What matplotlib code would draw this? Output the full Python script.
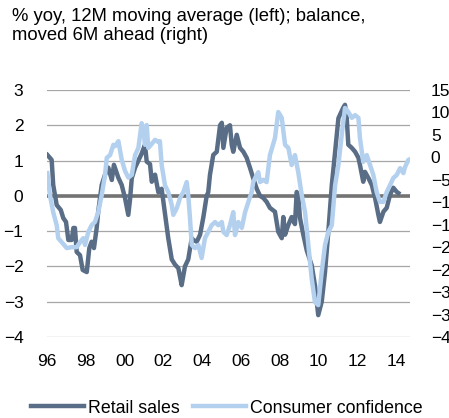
import numpy as np
import matplotlib
matplotlib.use("Agg")
import matplotlib.pyplot as plt

plt.rcParams['font.family'] = ['Liberation Sans', 'DejaVu Sans']

# years since Jan 1996
rs_t = [0.02, 0.24, 0.32, 0.50, 0.71, 0.84, 0.98, 1.10, 1.27, 1.36, 1.44, 1.53, 1.70, 1.84,
        2.05, 2.18, 2.30, 2.42, 2.56, 2.64, 2.82, 2.99, 3.16, 3.34, 3.45, 3.68, 3.85, 4.02,
        4.19, 4.28, 4.37, 4.54, 4.71, 4.88, 5.05, 5.14, 5.31, 5.40, 5.57, 5.74, 5.91, 6.08,
        6.25, 6.43, 6.60, 6.77, 6.86, 6.94, 7.11, 7.28, 7.46, 7.54, 7.72, 7.89, 8.06, 8.23,
        8.31, 8.40, 8.57, 8.75, 8.92, 9.01, 9.09, 9.26, 9.43, 9.52, 9.60, 9.78, 9.95, 10.12,
        10.29, 10.46, 10.63, 10.81, 10.98, 11.15, 11.32, 11.49, 11.75, 11.92, 12.10, 12.18,
        12.27, 12.44, 12.61, 12.78, 12.87, 12.95, 13.04, 13.21, 13.39, 13.64, 13.81, 13.98,
        14.16, 14.33, 14.50, 14.68, 14.85, 15.02, 15.27, 15.36, 15.45, 15.53, 15.71, 15.88,
        16.05, 16.13, 16.30, 16.39, 16.56, 16.74, 16.91, 17.08, 17.16, 17.34, 17.51, 17.68,
        17.85, 18.03, 18.11]
retail_sales = [1.16, 1.02, 0.31, -0.26, -0.40, -0.63, -0.74, -1.25, -1.25, -0.91, -0.91, -1.59,
                -1.68, -2.10, -2.16, -1.48, -1.30, -1.48, -0.91, -0.45, 0.31, 0.60, 0.80, 0.45,
                0.88, 0.51, 0.31, -0.06, -0.54, -0.10, 0.50, 0.80, 1.00, 1.20, 1.45, 0.97, 0.90,
                0.40, 0.60, 0.10, 0.20, -0.50, -1.20, -1.80, -1.95, -2.05, -2.30, -2.53, -2.00,
                -1.80, -1.20, -1.25, -1.30, -1.10, -0.60, 0.00, 0.10, 0.60, 1.16, 1.25, 2.00,
                2.07, 1.36, 1.93, 2.00, 1.45, 1.25, 1.73, 1.36, 1.25, 1.08, 0.80, 0.50, 0.20,
                0.00, -0.06, -0.17, -0.34, -0.45, -1.02, -1.20, -0.60, -1.10, -0.82, -0.60,
                -0.80, 0.11, 0.00, -0.63, -1.10, -1.55, -1.96, -2.53, -3.38, -3.00, -2.16,
                -1.02, 0.31, 1.25, 2.20, 2.50, 2.58, 2.20, 1.45, 1.36, 1.25, 1.08, 0.88, 0.40,
                0.68, 0.51, 0.31, -0.06, -0.54, -0.74, -0.45, -0.34, 0.03, 0.23, 0.11, 0.08]

cc_t = [0.02, 0.15, 0.32, 0.50, 0.58, 0.76, 1.02, 1.27, 1.53, 1.70, 1.87, 1.96, 2.13, 2.30,
        2.47, 2.64, 2.82, 2.99, 3.08, 3.25, 3.42, 3.51, 3.68, 3.85, 4.02, 4.19, 4.37, 4.54,
        4.71, 4.88, 4.96, 5.05, 5.14, 5.22, 5.40, 5.57, 5.74, 5.82, 5.91, 6.08, 6.25, 6.43,
        6.51, 6.69, 6.86, 7.03, 7.20, 7.28, 7.37, 7.46, 7.63, 7.80, 7.97, 8.14, 8.31, 8.49,
        8.66, 8.83, 9.01, 9.09, 9.26, 9.43, 9.60, 9.69, 9.86, 10.04, 10.21, 10.38, 10.55,
        10.63, 10.81, 10.89, 10.98, 11.15, 11.32, 11.49, 11.75, 11.92, 12.10, 12.27, 12.44,
        12.61, 12.78, 12.95, 13.13, 13.30, 13.47, 13.64, 13.81, 13.98, 14.16, 14.33, 14.50,
        14.68, 14.85, 15.02, 15.19, 15.36, 15.53, 15.71, 15.88, 16.05, 16.13, 16.30, 16.48,
        16.65, 16.82, 16.99, 17.16, 17.34, 17.51, 17.68, 17.85, 18.03, 18.20, 18.37, 18.45,
        18.62, 18.71]
consumer_conf = [-3.5, -8.4, -12.2, -15.1, -18.0, -18.9, -20.2, -20.0, -20.0, -18.9, -18.0,
                 -19.5, -16.6, -15.1, -14.4, -12.2, -8.4, -4.0, -0.1, 0.5, 2.8, 2.5, 3.6, -0.5,
                 -3.0, -4.5, -3.9, 0.5, 2.1, 7.6, 6.5, 2.8, 7.2, 2.1, 3.0, 3.9, 3.4, 3.6, -1.7,
                 -6.2, -7.7, -10.6, -12.8, -11.3, -9.0, -7.7, -5.5, -8.4, -13.5, -19.5, -20.2,
                 -19.5, -22.4, -18.0, -16.6, -15.1, -14.4, -15.1, -14.4, -16.6, -17.3, -15.1,
                 -12.2, -17.3, -14.4, -15.7, -12.2, -9.9, -7.7, -5.5, -3.9, -3.3, -5.5, -5.0,
                 -5.5, 0.5, 4.3, 10.1, 8.8, 2.8, 2.1, -1.7, 0.5, -3.3, -8.4, -12.2, -19.5,
                 -26.9, -32.2, -32.9, -25.5, -19.5, -16.6, -15.1, -6.2, -1.7, 5.0, 11.0, 10.1,
                 8.8, 9.4, 8.8, 4.3, -1.0, 0.5, -1.7, -3.9, -7.7, -9.9, -9.9, -7.7, -6.2, -4.6,
                 -3.9, -2.4, -3.5, -2.2, -0.6, -0.4]

xticks = [1996, 1998, 2000, 2002, 2004, 2006, 2008, 2010, 2012, 2014]
xlabels = ['96', '98', '00', '02', '04', '06', '08', '10', '12', '14']

dark = '#596e86'
light = '#b4d0ef'
fs = 12.5

fig = plt.figure(figsize=(4.49, 4.18), dpi=100)
ax = fig.add_axes([47/449, 1 - 337/418, (410 - 47)/449, (337 - 90)/418])
ax2 = ax.twinx()

ax.set_ylim(-4, 3)
ax.set_yticks(range(-4, 4))
ax2.set_ylim(-40, 15)
ax2.set_yticks(range(-40, 16, 5))
ax.set_xlim(1996, 1996 + 18.71)
ax.set_xticks(xticks)
ax.set_xticklabels(xlabels)

ax.grid(axis='y', color='#a6a6a6', linewidth=0.9)
ax.set_axisbelow(True)
ax.axhline(0, color='#737373', linewidth=2.6, zorder=1.5)

l1, = ax.plot(1996 + np.array(rs_t), retail_sales, color=dark, linewidth=3.2,
              solid_joinstyle='round', label='Retail sales', zorder=2)
l2, = ax2.plot(1996 + np.array(cc_t), consumer_conf, color=light, linewidth=3.2,
               solid_joinstyle='round', label='Consumer confidence')

for a in (ax, ax2):
    for s in a.spines.values():
        s.set_visible(False)
    a.tick_params(length=0, labelsize=fs, colors='black')
ax.tick_params(axis='y', pad=17)
ax.tick_params(axis='x', pad=12)
ax2.tick_params(axis='y', pad=15)
for t in ax2.get_yticklabels():
    t.set_horizontalalignment('left')

fig.text(12/449, 1 - 8/418, '% yoy, 12M moving average (left); balance,\nmoved 6M ahead (right)',
         ha='left', va='top', fontsize=13.3, linespacing=1.12)

fig.legend(handles=[l1, l2], loc='lower center', bbox_to_anchor=(0.505, -0.035), ncol=2,
           frameon=False, fontsize=12.8, handlelength=3.0, handletextpad=0.25,
           columnspacing=0.7)

fig.savefig('out.png', dpi=100)
